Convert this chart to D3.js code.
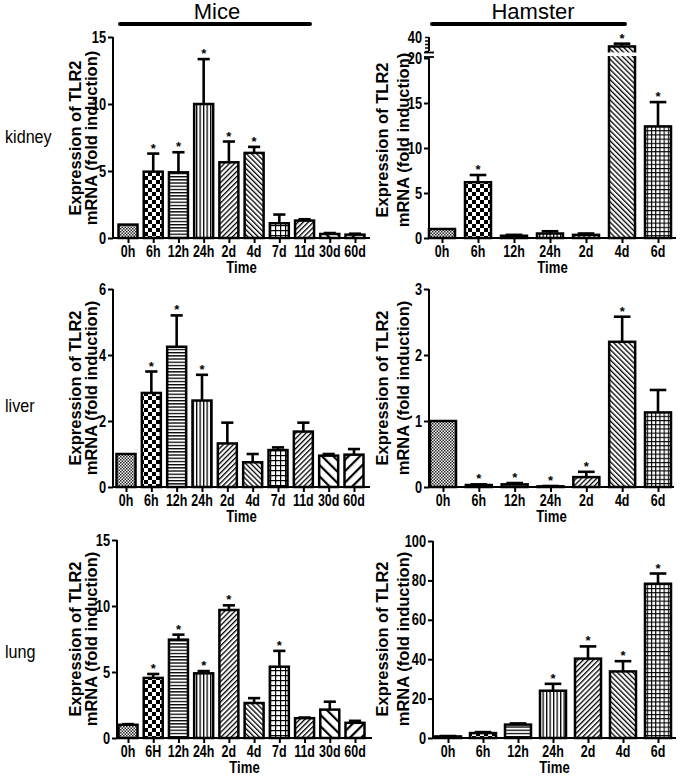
<!DOCTYPE html>
<html><head><meta charset="utf-8">
<script src="https://cdn.jsdelivr.net/npm/d3@7"></script>
<style>
body{margin:0;background:#fff}
svg{display:block}
text{font-family:"Liberation Sans",Arial,sans-serif;fill:#000}
</style>
</head><body>
<svg id="c" width="680" height="777"></svg>
<script>
// ---------- data ----------
const miceTimes = ["0h","6h","12h","24h","2d","4d","7d","11d","30d","60d"];
const miceLungTimes = ["0h","6H","12h","24h","2d","4d","7d","11d","30d","60d"];
const hamsterTimes = ["0h","6h","12h","24h","2d","4d","6d"];

const miceKidneyMean = [1.0,4.95,4.9,10.0,5.65,6.35,1.1,1.3,0.3,0.25];
const miceKidneySem  = [0,1.35,1.5,3.35,1.55,0.45,0.65,0.1,0.07,0.07];
const miceKidneyStar = [0,1,1,1,1,1,0,0,0,0];
const miceKidneyTicks = [0,5,10,15];

const hamKidneyMean = [1.0,6.2,0.25,0.5,0.35,26.5,12.4];
const hamKidneySem  = [0,0.8,0.1,0.25,0.15,4,2.7];
const hamKidneyStar = [0,1,0,0,0,1,1];
const hamKidneyTicksLow = [0,5,10,15,20];
const hamKidneyTicksHigh = [40];
const hamKidneyMinorHigh = [20,25,30,35,40];

const miceLiverMean = [1.0,2.85,4.25,2.62,1.32,0.75,1.12,1.68,0.95,0.98];
const miceLiverSem  = [0,0.65,0.95,0.78,0.63,0.25,0.08,0.27,0.05,0.17];
const miceLiverStar = [0,1,1,1,0,0,0,0,0,0];
const miceLiverTicks = [0,2,4,6];

const hamLiverMean = [1.0,0.03,0.04,0.01,0.15,2.2,1.13];
const hamLiverSem  = [0,0.01,0.02,0.005,0.08,0.38,0.34];
const hamLiverStar = [0,1,1,1,1,1,0];
const hamLiverTicks = [0,1,2,3];

const miceLungMean = [1.0,4.55,7.45,4.9,9.7,2.65,5.4,1.5,2.15,1.15];
const miceLungSem  = [0.05,0.3,0.38,0.17,0.35,0.37,1.2,0.05,0.6,0.15];
const miceLungStar = [0,1,1,1,1,0,1,0,0,0];
const miceLungTicks = [0,5,10,15];

const hamLungMean = [0.8,2.5,6.8,24,40.3,33.8,78.3];
const hamLungSem  = [0.2,0.5,0.6,3.5,6.2,5.2,5.2];
const hamLungStar = [0,0,0,1,1,1,1];
const hamLungTicks = [0,20,40,60,80,100];

const micePatterns = ["fine","checker","hline","vline","diagR","diagL","grid","diagR","wideL","wideR"];
const hamPatterns  = ["fine","checker","hline","vline","diagR","diagL","grid2"];

const rowLabels = ["kidney","liver","lung"];
const groupLabels = ["Mice","Hamster"];
const yTitle1 = "Expression of TLR2";
const yTitle2 = "mRNA (fold induction)";
const xTitle = "Time";

// ---------- drawing ----------
const svg = d3.select("#c");
const defs = svg.append("defs");

function pat(id, w, h, rot, build){
  const p = defs.append("pattern").attr("id",id).attr("patternUnits","userSpaceOnUse")
    .attr("width",w).attr("height",h);
  if(rot) p.attr("patternTransform",`rotate(${rot})`);
  p.append("rect").attr("width",w).attr("height",h).attr("fill","#fff");
  build(p);
}
pat("fine",3,3,0,p=>{
  p.append("rect").attr("width",1.5).attr("height",1.5).attr("fill","#222");
  p.append("rect").attr("x",1.5).attr("y",1.5).attr("width",1.5).attr("height",1.5).attr("fill","#222");
});
pat("checker",8,8,0,p=>{
  p.append("rect").attr("width",4).attr("height",4).attr("fill","#000");
  p.append("rect").attr("x",4).attr("y",4).attr("width",4).attr("height",4).attr("fill","#000");
});
pat("hline",4,3.2,0,p=>p.append("rect").attr("width",4).attr("height",1.3).attr("fill","#000"));
pat("vline",3.5,4,0,p=>p.append("rect").attr("width",1.3).attr("height",4).attr("fill","#000"));
pat("diagR",3.6,4,45,p=>p.append("rect").attr("width",1.3).attr("height",4).attr("fill","#000"));
pat("diagL",3.6,4,-45,p=>p.append("rect").attr("width",1.3).attr("height",4).attr("fill","#000"));
pat("grid",5,5,0,p=>{
  p.append("rect").attr("width",5).attr("height",1.2).attr("fill","#000");
  p.append("rect").attr("width",1.2).attr("height",5).attr("fill","#000");
});
pat("grid2",4.2,4.2,0,p=>{
  p.append("rect").attr("width",4.2).attr("height",1.1).attr("fill","#000");
  p.append("rect").attr("width",1.1).attr("height",4.2).attr("fill","#000");
});
pat("wideL",8,8,-45,p=>p.append("rect").attr("width",2.2).attr("height",8).attr("fill","#000"));
pat("wideR",8,8,45,p=>p.append("rect").attr("width",2.2).attr("height",8).attr("fill","#000"));

function sText(g, x, y, str, size, anchor, sx, weight){
  return g.append("text").attr("transform",`translate(${x},${y}) scale(${sx},1)`)
    .attr("text-anchor",anchor).attr("font-size",size).attr("font-weight",weight||"bold").text(str);
}

const layouts = [
  {ax:113, top:37,  bottom:238, c0:128, c1:355, xEnd:370, bw:19, tx1:75,  tx2:91,  yc:138},
  {ax:429, top:58,  bottom:238, c0:442, c1:658, xEnd:676, bw:26, tx1:382, tx2:403, yc:140},
  {ax:113, top:289, bottom:487, c0:126, c1:354, xEnd:370, bw:19, tx1:75,  tx2:91,  yc:388},
  {ax:429, top:289, bottom:487, c0:443, c1:658, xEnd:674, bw:26, tx1:382, tx2:403, yc:388},
  {ax:117, top:540, bottom:738, c0:128, c1:355, xEnd:372, bw:19, tx1:75,  tx2:91,  yc:639},
  {ax:433, top:541, bottom:738, c0:448, c1:658, xEnd:676, bw:26, tx1:382, tx2:403, yc:639}
];
const panelData = [
  {labels:miceTimes, mean:miceKidneyMean, sem:miceKidneySem, star:miceKidneyStar, pats:micePatterns, ticks:miceKidneyTicks},
  {labels:hamsterTimes, mean:hamKidneyMean, sem:hamKidneySem, star:hamKidneyStar, pats:hamPatterns, ticks:hamKidneyTicksLow, broken:true},
  {labels:miceTimes, mean:miceLiverMean, sem:miceLiverSem, star:miceLiverStar, pats:micePatterns, ticks:miceLiverTicks},
  {labels:hamsterTimes, mean:hamLiverMean, sem:hamLiverSem, star:hamLiverStar, pats:hamPatterns, ticks:hamLiverTicks},
  {labels:miceLungTimes, mean:miceLungMean, sem:miceLungSem, star:miceLungStar, pats:micePatterns, ticks:miceLungTicks},
  {labels:hamsterTimes, mean:hamLungMean, sem:hamLungSem, star:hamLungStar, pats:hamPatterns, ticks:hamLungTicks}
];

panelData.forEach((d,i)=>{
  const L = layouts[i];
  const g = svg.append("g");
  const x = d3.scalePoint().domain(d.labels).range([L.c0,L.c1]);
  const ymax = d3.max(d.ticks);
  const y = d3.scaleLinear().domain([0,ymax]).range([L.bottom,L.top]);
  let yHi = null;
  if(d.broken){
    yHi = d3.scaleLinear().domain([20,40]).range([51,37]);
  }
  const yv = v => (d.broken && v>20) ? yHi(v) : y(Math.min(v,ymax));

  d.labels.forEach((lab,k)=>{
    const cx = x(lab), m = d.mean[k], s = d.sem[k];
    const yt = yv(m);
    if(s>0){
      const ye = yv(m+s);
      g.append("line").attr("x1",cx).attr("x2",cx).attr("y1",yt).attr("y2",ye)
        .attr("stroke","#000").attr("stroke-width",2.6);
      g.append("line").attr("x1",cx-L.bw*0.32).attr("x2",cx+L.bw*0.32).attr("y1",ye).attr("y2",ye)
        .attr("stroke","#000").attr("stroke-width",2.6);
    }
    g.append("rect").attr("x",cx-L.bw/2).attr("y",yt).attr("width",L.bw).attr("height",L.bottom-yt)
      .attr("fill",`url(#${d.pats[k]})`).attr("stroke","#000").attr("stroke-width",2.5);
    if(d.broken && m>20){
      g.append("rect").attr("x",cx-L.bw/2-3).attr("y",52.5).attr("width",L.bw+6).attr("height",3.5).attr("fill","#fff");
    }
    if(d.star[k]){
      const ys = yv(m+s);
      g.append("text").attr("x",cx).attr("y",ys-1).attr("text-anchor","middle")
        .attr("font-size",13).attr("font-weight","bold").text("*");
    }
  });

  const yAx = g.append("g").attr("transform",`translate(${L.ax},0)`)
    .call(d3.axisLeft(y).tickValues(d.ticks).tickSize(5).tickFormat(""));
  yAx.select(".domain").attr("stroke-width",2).attr("d",`M0,${L.bottom+1}V${L.top}`);
  yAx.selectAll(".tick line").attr("stroke-width",2);
  d.ticks.forEach(t=>{
    sText(g, L.ax-7, y(t)+5.5, String(t), 16, "end", 0.8);
  });
  if(d.broken){
    const hiAx = g.append("g").attr("transform",`translate(${L.ax},0)`)
      .call(d3.axisLeft(yHi).tickValues(hamKidneyMinorHigh).tickSize(4).tickFormat(""));
    hiAx.select(".domain").attr("stroke-width",2).attr("d",`M0,${yHi(20)}V${yHi(40)}`);
    hiAx.selectAll(".tick line").attr("stroke-width",1.5);
    hamKidneyTicksHigh.forEach(t=>sText(g, L.ax-7, yHi(t)+5.5, String(t), 16, "end", 0.8));
    [52.5,57].forEach(yy=>g.append("line").attr("x1",L.ax-5).attr("x2",L.ax+5).attr("y1",yy).attr("y2",yy)
      .attr("stroke","#000").attr("stroke-width",1.8));
  }

  const xAx = g.append("g").attr("transform",`translate(0,${L.bottom})`)
    .call(d3.axisBottom(x).tickSize(5).tickFormat(""));
  xAx.select(".domain").attr("stroke-width",2).attr("d",`M${L.ax-1},0H${L.xEnd}`);
  xAx.selectAll(".tick line").attr("stroke-width",2);
  d.labels.forEach(lab=>sText(g, x(lab), L.bottom+19, lab, 16, "middle", 0.78));
  sText(g, (L.ax+L.xEnd)/2, L.bottom+35, xTitle, 16, "middle", 0.82);

  g.append("text").attr("transform",`translate(${L.tx1+6},${L.yc}) rotate(-90)`)
    .attr("text-anchor","middle").attr("font-size",16.5).attr("font-weight","bold").text(yTitle1);
  g.append("text").attr("transform",`translate(${L.tx2+6},${L.yc}) rotate(-90)`)
    .attr("text-anchor","middle").attr("font-size",16.5).attr("font-weight","bold").text(yTitle2);
});

const rowY = [143, 412, 658];
rowLabels.forEach((t,i)=>sText(svg, 5, rowY[i], t, 19, "start", 0.85, "normal"));

const headers = [{cx:217, x1:120, x2:310},{cx:533, x1:432, x2:625}];
groupLabels.forEach((t,i)=>{
  const h = headers[i];
  svg.append("text").attr("x",h.cx).attr("y",19).attr("text-anchor","middle")
    .attr("font-size",22).text(t);
  svg.append("line").attr("x1",h.x1).attr("x2",h.x2).attr("y1",24).attr("y2",24)
    .attr("stroke","#000").attr("stroke-width",4).attr("stroke-linecap","round");
});
</script>
</body></html>
